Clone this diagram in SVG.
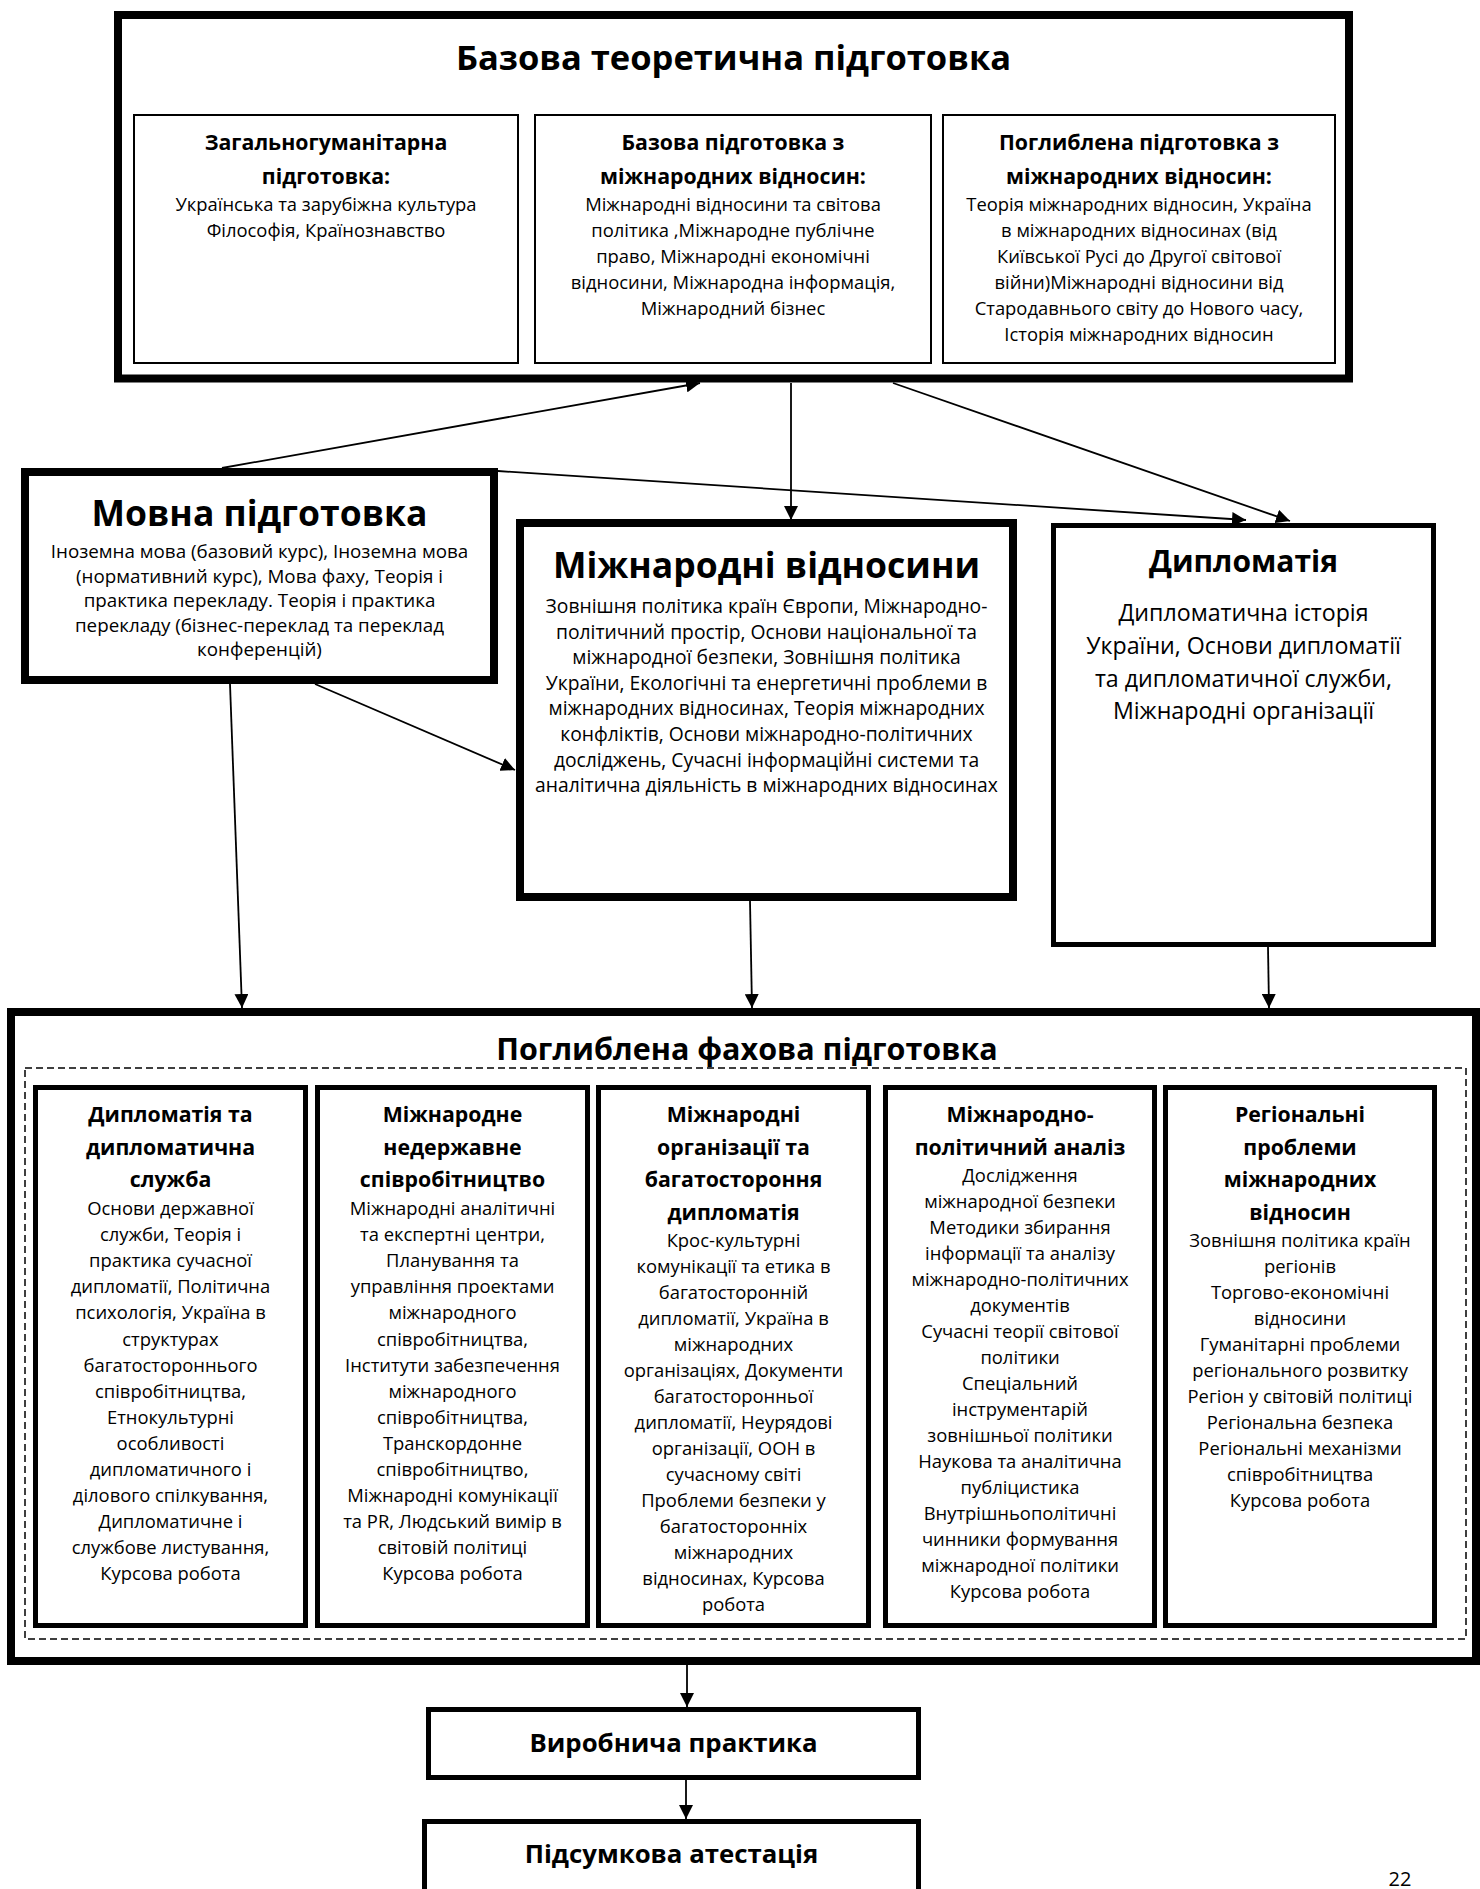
<svg xmlns="http://www.w3.org/2000/svg" width="1480" height="1889" viewBox="0 0 1480 1889">
<defs>
<style>
text{font-family:"Open Sans","Noto Sans","DejaVu Sans",sans-serif;fill:#000;text-anchor:middle}
.b{font-weight:700}
.t1{font-size:34.5px;font-weight:700}
.t2{font-size:35.5px;font-weight:700}
.t3{font-size:30px;font-weight:700}
.t4{font-size:30.5px;font-weight:700}
.h{font-size:21.3px;font-weight:700}
.p{font-size:18.4px}
.pm{font-size:18.8px}
.pi{font-size:19.3px}
.pd{font-size:23.2px}
.bt{font-size:25.8px;font-weight:700}
.bx{fill:#fff;stroke:#000}
.w8{stroke-width:8}
.w5{stroke-width:5}
.w2{stroke-width:2}
.dash{fill:none;stroke:#000;stroke-width:1.5;stroke-dasharray:7 4}
.c{fill:none;stroke:#000;stroke-width:1.8;marker-end:url(#ah)}
</style>
<marker id="ah" viewBox="0 0 10 10" refX="10" refY="5" markerWidth="14" markerHeight="14" markerUnits="userSpaceOnUse" orient="auto"><path d="M0,0 L10,5 L0,10 z" fill="#000"/></marker>
</defs>
<rect width="1480" height="1889" fill="#fff"/>

<g id="basic">
<rect class="bx w8" x="118" y="15" width="1231" height="363.5"/>
<text class="t1" x="733.5" y="70">Базова теоретична підготовка</text>
<rect class="bx w2" x="134" y="115" width="384" height="248"/>
<text class="h"><tspan x="326" y="150">Загальногуманітарна</tspan><tspan x="326" y="184">підготовка:</tspan></text>
<text class="p"><tspan x="326" y="211">Українська та зарубіжна культура</tspan><tspan x="326" y="237">Філософія, Країнознавство</tspan></text>
<rect class="bx w2" x="535" y="115" width="396" height="248"/>
<text class="h"><tspan x="733" y="150">Базова підготовка з</tspan><tspan x="733" y="184">міжнародних відносин:</tspan></text>
<text class="p"><tspan x="733" y="211">Міжнародні відносини та світова</tspan><tspan x="733" y="237">політика ,Міжнародне публічне</tspan><tspan x="733" y="263">право, Міжнародні економічні</tspan><tspan x="733" y="289">відносини, Міжнародна інформація,</tspan><tspan x="733" y="315">Міжнародний бізнес</tspan></text>
<rect class="bx w2" x="943" y="115" width="392" height="248"/>
<text class="h"><tspan x="1139" y="150">Поглиблена підготовка з</tspan><tspan x="1139" y="184">міжнародних відносин:</tspan></text>
<text class="p"><tspan x="1139" y="211">Теорія міжнародних відносин, Україна</tspan><tspan x="1139" y="237">в міжнародних відносинах (від</tspan><tspan x="1139" y="263">Київської Русі до Другої світової</tspan><tspan x="1139" y="289">війни)Міжнародні відносини від</tspan><tspan x="1139" y="315">Стародавнього світу до Нового часу,</tspan><tspan x="1139" y="341">Історія міжнародних відносин</tspan></text>
</g>

<g id="lang">
<rect class="bx w8" x="25" y="472" width="469" height="208"/>
<text class="t2" x="259.5" y="526">Мовна підготовка</text>
<text class="pm"><tspan x="259.5" y="558">Іноземна мова (базовий курс), Іноземна мова</tspan><tspan x="259.5" y="582.5">(нормативний курс), Мова фаху, Теорія і</tspan><tspan x="259.5" y="607">практика перекладу. Теорія і практика</tspan><tspan x="259.5" y="631.5">перекладу (бізнес-переклад та переклад</tspan><tspan x="259.5" y="656">конференцій)</tspan></text>
</g>

<g id="ir">
<rect class="bx w8" x="520" y="523" width="493" height="374"/>
<text class="t2" x="766.5" y="578">Міжнародні відносини</text>
<text class="pi"><tspan x="766.5" y="613">Зовнішня політика країн Європи, Міжнародно-</tspan><tspan x="766.5" y="638.6">політичний простір, Основи національної та</tspan><tspan x="766.5" y="664.2">міжнародної безпеки, Зовнішня політика</tspan><tspan x="766.5" y="689.8">України, Екологічні та енергетичні проблеми в</tspan><tspan x="766.5" y="715.4">міжнародних відносинах, Теорія міжнародних</tspan><tspan x="766.5" y="741">конфліктів, Основи міжнародно-політичних</tspan><tspan x="766.5" y="766.6">досліджень, Сучасні інформаційні системи та</tspan><tspan x="766.5" y="792.2">аналітична діяльність в міжнародних відносинах</tspan></text>
</g>

<g id="diplomacy">
<rect class="bx w5" x="1053.5" y="525.5" width="380" height="419"/>
<text class="t3" x="1243.5" y="572">Дипломатія</text>
<text class="pd"><tspan x="1243.5" y="621">Дипломатична історія</tspan><tspan x="1243.5" y="654">України, Основи дипломатії</tspan><tspan x="1243.5" y="687">та дипломатичної служби,</tspan><tspan x="1243.5" y="719">Міжнародні організації</tspan></text>
</g>

<g id="advanced">
<rect class="bx w8" x="11" y="1012" width="1465" height="649"/>
<text class="t4" x="747" y="1060">Поглиблена фахова підготовка</text>
<rect class="dash" x="25" y="1068" width="1441" height="571"/>

<g id="adv1">
<rect class="bx w5" x="35.5" y="1087.5" width="270" height="538"/>
<text class="h"><tspan x="170.5" y="1122">Дипломатія та</tspan><tspan x="170.5" y="1154.5">дипломатична</tspan><tspan x="170.5" y="1187">служба</tspan></text>
<text class="p"><tspan x="170.5" y="1215">Основи державної</tspan><tspan x="170.5" y="1241.1">служби, Теорія і</tspan><tspan x="170.5" y="1267.2">практика сучасної</tspan><tspan x="170.5" y="1293.3">дипломатії, Політична</tspan><tspan x="170.5" y="1319.4">психологія, Україна в</tspan><tspan x="170.5" y="1345.5">структурах</tspan><tspan x="170.5" y="1371.6">багатостороннього</tspan><tspan x="170.5" y="1397.7">співробітництва,</tspan><tspan x="170.5" y="1423.8">Етнокультурні</tspan><tspan x="170.5" y="1449.9">особливості</tspan><tspan x="170.5" y="1476">дипломатичного і</tspan><tspan x="170.5" y="1502.1">ділового спілкування,</tspan><tspan x="170.5" y="1528.2">Дипломатичне і</tspan><tspan x="170.5" y="1554.3">службове листування,</tspan><tspan x="170.5" y="1580.4">Курсова робота</tspan></text>
</g>

<g id="adv2">
<rect class="bx w5" x="317.5" y="1087.5" width="270" height="538"/>
<text class="h"><tspan x="452.5" y="1122">Міжнародне</tspan><tspan x="452.5" y="1154.5">недержавне</tspan><tspan x="452.5" y="1187">співробітництво</tspan></text>
<text class="p"><tspan x="452.5" y="1215">Міжнародні аналітичні</tspan><tspan x="452.5" y="1241.1">та експертні центри,</tspan><tspan x="452.5" y="1267.2">Планування та</tspan><tspan x="452.5" y="1293.3">управління проектами</tspan><tspan x="452.5" y="1319.4">міжнародного</tspan><tspan x="452.5" y="1345.5">співробітництва,</tspan><tspan x="452.5" y="1371.6">Інститути забезпечення</tspan><tspan x="452.5" y="1397.7">міжнародного</tspan><tspan x="452.5" y="1423.8">співробітництва,</tspan><tspan x="452.5" y="1449.9">Транскордонне</tspan><tspan x="452.5" y="1476">співробітництво,</tspan><tspan x="452.5" y="1502.1">Міжнародні комунікації</tspan><tspan x="452.5" y="1528.2">та PR, Людський вимір в</tspan><tspan x="452.5" y="1554.3">світовій політиці</tspan><tspan x="452.5" y="1580.4">Курсова робота</tspan></text>
</g>

<g id="adv3">
<rect class="bx w5" x="598.5" y="1087.5" width="270" height="538"/>
<text class="h"><tspan x="733.5" y="1122">Міжнародні</tspan><tspan x="733.5" y="1154.5">організації та</tspan><tspan x="733.5" y="1187">багатостороння</tspan><tspan x="733.5" y="1219.5">дипломатія</tspan></text>
<text class="p"><tspan x="733.5" y="1247">Крос-культурні</tspan><tspan x="733.5" y="1273">комунікації та етика в</tspan><tspan x="733.5" y="1299">багатосторонній</tspan><tspan x="733.5" y="1325">дипломатії, Україна в</tspan><tspan x="733.5" y="1351">міжнародних</tspan><tspan x="733.5" y="1377">організаціях, Документи</tspan><tspan x="733.5" y="1403">багатосторонньої</tspan><tspan x="733.5" y="1429">дипломатії, Неурядові</tspan><tspan x="733.5" y="1455">організації, ООН в</tspan><tspan x="733.5" y="1481">сучасному світі</tspan><tspan x="733.5" y="1507">Проблеми безпеки у</tspan><tspan x="733.5" y="1533">багатосторонніх</tspan><tspan x="733.5" y="1559">міжнародних</tspan><tspan x="733.5" y="1585">відносинах, Курсова</tspan><tspan x="733.5" y="1611">робота</tspan></text>
</g>

<g id="adv4">
<rect class="bx w5" x="885.5" y="1087.5" width="269" height="538"/>
<text class="h"><tspan x="1020" y="1122">Міжнародно-</tspan><tspan x="1020" y="1154.5">політичний аналіз</tspan></text>
<text class="p"><tspan x="1020" y="1182">Дослідження</tspan><tspan x="1020" y="1208">міжнародної безпеки</tspan><tspan x="1020" y="1234">Методики збирання</tspan><tspan x="1020" y="1260">інформації та аналізу</tspan><tspan x="1020" y="1286">міжнародно-політичних</tspan><tspan x="1020" y="1312">документів</tspan><tspan x="1020" y="1338">Сучасні теорії світової</tspan><tspan x="1020" y="1364">політики</tspan><tspan x="1020" y="1390">Спеціальний</tspan><tspan x="1020" y="1416">інструментарій</tspan><tspan x="1020" y="1442">зовнішньої політики</tspan><tspan x="1020" y="1468">Наукова та аналітична</tspan><tspan x="1020" y="1494">публіцистика</tspan><tspan x="1020" y="1520">Внутрішньополітичні</tspan><tspan x="1020" y="1546">чинники формування</tspan><tspan x="1020" y="1572">міжнародної політики</tspan><tspan x="1020" y="1598">Курсова робота</tspan></text>
</g>

<g id="adv5">
<rect class="bx w5" x="1165.5" y="1087.5" width="269" height="538"/>
<text class="h"><tspan x="1300" y="1122">Регіональні</tspan><tspan x="1300" y="1154.5">проблеми</tspan><tspan x="1300" y="1187">міжнародних</tspan><tspan x="1300" y="1219.5">відносин</tspan></text>
<text class="p"><tspan x="1300" y="1247">Зовнішня політика країн</tspan><tspan x="1300" y="1273">регіонів</tspan><tspan x="1300" y="1299">Торгово-економічні</tspan><tspan x="1300" y="1325">відносини</tspan><tspan x="1300" y="1351">Гуманітарні проблеми</tspan><tspan x="1300" y="1377">регіонального розвитку</tspan><tspan x="1300" y="1403">Регіон у світовій політиці</tspan><tspan x="1300" y="1429">Регіональна безпека</tspan><tspan x="1300" y="1455">Регіональні механізми</tspan><tspan x="1300" y="1481">співробітництва</tspan><tspan x="1300" y="1507">Курсова робота</tspan></text>
</g>
</g>

<g id="practice">
<rect class="bx w5" x="428.5" y="1709.5" width="490" height="68"/>
<text class="bt" x="673.5" y="1752">Виробнича практика</text>
</g>

<g id="attestation">
<rect class="bx w5" x="424.5" y="1821.5" width="494" height="100"/>
<text class="bt" x="671.5" y="1863">Підсумкова атестація</text>
</g>

<text x="1400" y="1886" style="font-size:20px">22</text>

<g id="connectors">
<line class="c" x1="222" y1="468" x2="700" y2="383"/>
<line class="c" x1="498" y1="471" x2="1246" y2="520"/>
<line class="c" x1="791" y1="383" x2="791" y2="520"/>
<line class="c" x1="893" y1="383" x2="1290" y2="521"/>
<line class="c" x1="315" y1="684" x2="515" y2="770"/>
<line class="c" x1="230" y1="684" x2="242" y2="1008"/>
<line class="c" x1="750" y1="901" x2="752" y2="1008"/>
<line class="c" x1="1268" y1="947" x2="1269" y2="1008"/>
<line class="c" x1="687" y1="1665" x2="687" y2="1707"/>
<line class="c" x1="686" y1="1780" x2="686" y2="1819"/>
</g>
</svg>
